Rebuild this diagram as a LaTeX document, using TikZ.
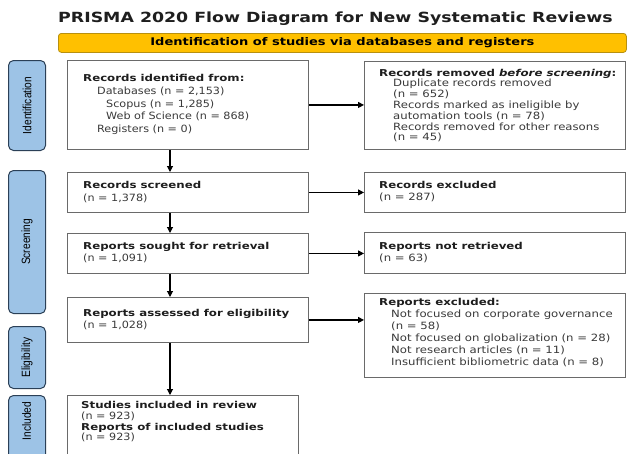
\documentclass[tikz,border=0pt]{standalone}
\usepackage{fontspec}
\setmainfont{DejaVu Sans}
\newfontfamily\widefont[FakeStretch=1.24]{DejaVu Sans}
\newfontfamily\bodyfont[FakeStretch=1.12]{DejaVu Sans}
\newfontfamily\sidefont[FakeStretch=1.17]{DejaVu Sans}
\newfontfamily\narrowfont[FakeStretch=0.85]{Liberation Sans}
\usetikzlibrary{arrows.meta}
\definecolor{barfill}{HTML}{FFC000}
\definecolor{bardraw}{HTML}{B8900F}
\definecolor{tabfill}{HTML}{9DC3E6}
\definecolor{tabdraw}{HTML}{2B4057}
\definecolor{boxdraw}{HTML}{6A6A6A}
\definecolor{txt}{HTML}{3A3A3A}
\definecolor{hdr}{HTML}{1E1E1E}
\newcommand{\hd}[1]{{\widefont\bfseries\color{hdr}\fontsize{9.5}{12}\selectfont #1}}
\begin{document}
\begin{tikzpicture}[x=1pt,y=-1pt,
  box/.style={draw=boxdraw, line width=0.9pt, fill=white, inner sep=0pt, anchor=north west},
  tab/.style={draw=tabdraw, fill=tabfill, line width=1pt, rounded corners=5pt,
    inner sep=0pt, minimum width=37pt, anchor=north west},
  tablabel/.style={rotate=90, font=\narrowfont\fontsize{12}{14}\selectfont, text=black, inner sep=0pt},
  bartext/.style={font=\widefont\bfseries\fontsize{10.5}{12}\selectfont},
  boxtext/.style={anchor=west, align=left, inner sep=0pt, text=txt},
  arr/.style={-{Triangle[length=6pt,width=6pt]}, line width=1.1pt, draw=black}]
\useasboundingbox (0,0) rectangle (627,453);
\fill[white] (0,0) rectangle (627,453);

% title and banner
\node[anchor=base west, inner sep=0pt, font=\widefont\bfseries\fontsize{14}{16}\selectfont, text=hdr]
  (title) at (58,22) {PRISMA 2020 Flow Diagram for New Systematic Reviews};
\node[draw=bardraw, fill=barfill, line width=0.8pt, rounded corners=3pt, anchor=north west,
  minimum width=568pt, minimum height=19pt, inner sep=0pt, bartext]
  (bar) at (58,33) {Identification of studies via databases and registers};

% phase tabs
\node[tab, minimum height=90pt] (tabId) at (8,60) {};
\node[tablabel] (labId) at (tabId.center) {Identification};
\node[tab, minimum height=143pt] (tabSc) at (8,170) {};
\node[tablabel] (labSc) at (tabSc.center) {Screening};
\node[tab, minimum height=62pt] (tabEl) at (8,326) {};
\node[tablabel] (labEl) at (tabEl.center) {Eligibility};
\node[tab, minimum height=80pt] (tabIn) at (8,395) {};
\node[tablabel] (labIn) at (26.5,421) {Included};

% main column
\node[box, minimum width=241pt, minimum height=89pt] (B1) at (67,60) {};
\node[boxtext, font=\bodyfont\fontsize{10}{12.7}\selectfont] (B1t) at (83,104.5)
  {\hd{Records identified from:}\\
   \hspace*{14pt}Databases (n = 2,153)\\
   \hspace*{23pt}Scopus (n = 1,285)\\
   \hspace*{23pt}Web of Science (n = 868)\\
   \hspace*{14pt}Registers (n = 0)};

\node[box, minimum width=241pt, minimum height=40pt] (B2) at (67,172) {};
\node[boxtext, font=\bodyfont\fontsize{10}{13}\selectfont] (B2t) at (83,192)
  {\hd{Records screened}\\(n = 1,378)};

\node[box, minimum width=241pt, minimum height=40pt] (B3) at (67,233) {};
\node[boxtext, font=\bodyfont\fontsize{10}{12}\selectfont] (B3t) at (83,253)
  {\hd{Reports sought for retrieval}\\(n = 1,091)};

\node[box, minimum width=241pt, minimum height=45pt] (B4) at (67,297) {};
\node[boxtext, font=\bodyfont\fontsize{10}{12}\selectfont] (B4t) at (83,319.5)
  {\hd{Reports assessed for eligibility}\\(n = 1,028)};

\node[box, minimum width=231pt, minimum height=80pt] (B5) at (67,395) {};
\node[boxtext, anchor=north west, font=\bodyfont\fontsize{10}{10.8}\selectfont] (B5t) at (81,401)
  {\hd{Studies included in review}\\(n = 923)\\
   \hd{Reports of included studies}\\(n = 923)};

% side column
\node[box, minimum width=261pt, minimum height=88pt] (R1) at (364,61) {};
\node[boxtext, font=\sidefont\fontsize{10}{10.8}\selectfont] (R1t) at (379,105.5)
  {\hd{Records removed \textit{before screening}:}\\
   \hspace*{14pt}Duplicate records removed\\
   \hspace*{14pt}(n = 652)\\
   \hspace*{14pt}Records marked as ineligible by\\
   \hspace*{14pt}automation tools (n = 78)\\
   \hspace*{14pt}Records removed for other reasons\\
   \hspace*{14pt}(n = 45)};

\node[box, minimum width=261pt, minimum height=40pt] (R2) at (364,172) {};
\node[boxtext, font=\sidefont\fontsize{10}{12}\selectfont] (R2t) at (379,192)
  {\hd{Records excluded}\\(n = 287)};

\node[box, minimum width=261pt, minimum height=41pt] (R3) at (364,232) {};
\node[boxtext, font=\sidefont\fontsize{10}{12}\selectfont] (R3t) at (379,252.5)
  {\hd{Reports not retrieved}\\(n = 63)};

\node[box, minimum width=261pt, minimum height=84pt] (R4) at (364,293) {};
\node[boxtext, font=\sidefont\fontsize{10}{12}\selectfont] (R4t) at (379,333)
  {\hd{Reports excluded:}\\
   \hspace*{12pt}Not focused on corporate governance\\
   \hspace*{12pt}(n = 58)\\
   \hspace*{12pt}Not focused on globalization (n = 28)\\
   \hspace*{12pt}Not research articles (n = 11)\\
   \hspace*{12pt}Insufficient bibliometric data (n = 8)};

% connectors
\coordinate (spine) at (170,0);
\draw[arr] (B1.south -| spine) -- (B2.north -| spine);
\draw[arr] (B2.south -| spine) -- (B3.north -| spine);
\draw[arr] (B3.south -| spine) -- (B4.north -| spine);
\draw[arr] (B4.south -| spine) -- (B5.north -| spine);
\draw[arr] (B1.east) -- (B1.east -| R1.west);
\draw[arr] (B2.east) -- (B2.east -| R2.west);
\draw[arr] (B3.east) -- (B3.east -| R3.west);
\draw[arr] (B4.east) -- (B4.east -| R4.west);
\end{tikzpicture}
\end{document}
